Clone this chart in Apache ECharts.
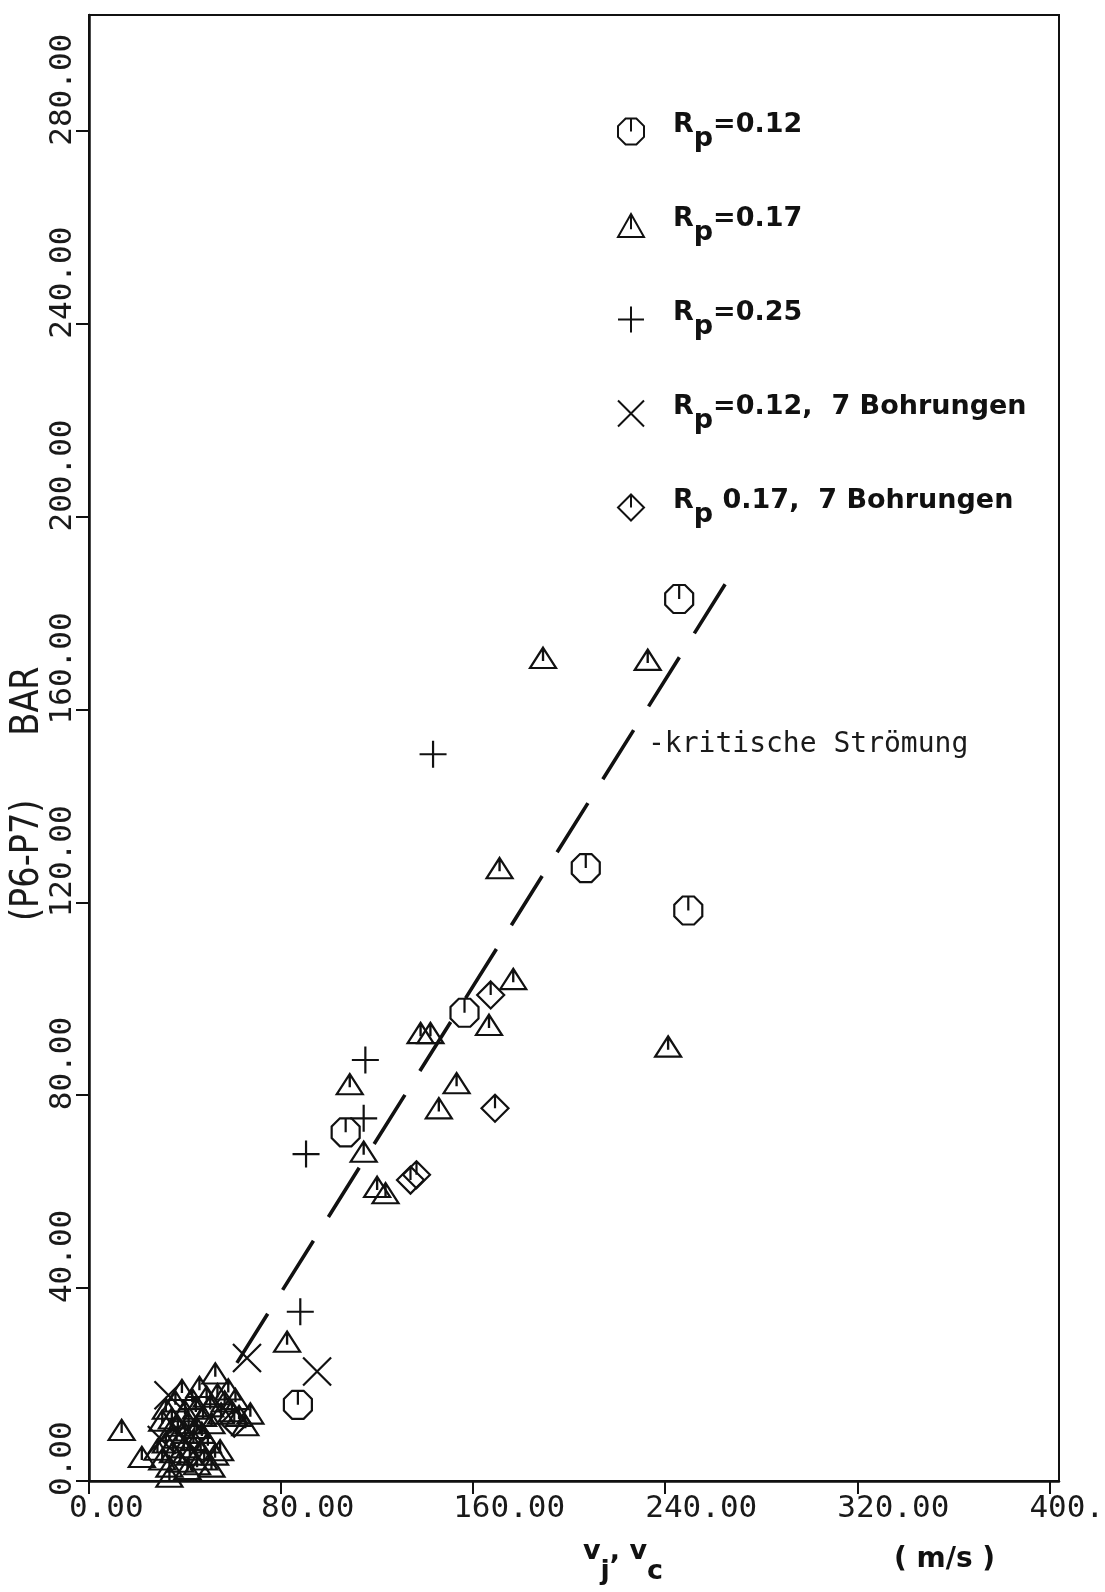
<!DOCTYPE html>
<html>
<head>
<meta charset="utf-8">
<script src="https://cdn.jsdelivr.net/npm/echarts@6/dist/echarts.min.js"></script>
<style>
  html, body { margin: 0; padding: 0; background: #fff; }
  #chart { width: 1105px; height: 1592px; }
</style>
</head>
<body>
<div id="chart"></div>
<script>
// Druckdifferenz P6-P7 (bar) über der Geschwindigkeit v_j, v_c (m/s)
const xTicks = [0, 80, 160, 240, 320, 400];
const yTicks = [0, 40, 80, 120, 160, 200, 240, 280];

// R_p = 0.12
const rp012 = [
  [245.8, 182.9], [206.9, 127.1], [249.6, 118.3], [156.4, 97.1],
  [106.9, 72.3], [87.0, 15.8]
];

// R_p = 0.17
const rp017 = [
  [189.1, 170.7], [232.7, 170.3], [171.0, 127.1], [176.7, 104.1],
  [241.2, 90.1], [138.1, 92.9], [142.2, 92.9], [166.6, 94.6],
  [153.1, 82.5], [145.7, 77.3], [108.6, 82.3], [114.4, 68.3],
  [120.0, 61.0], [123.5, 59.7], [82.5, 28.9],
  [13.6, 10.6], [22.0, 5.0], [33.5, 0.9],
  [52.6, 22.3], [38.7, 18.9], [67.2, 14.0], [65.1, 11.6], [54.6, 6.4],
  [30.5, 12.5], [32.0, 15.0], [34.5, 13.0], [36.0, 16.5], [40.0, 14.5],
  [41.5, 12.0], [43.0, 17.0], [44.5, 15.0], [46.0, 19.5], [47.5, 13.5],
  [49.0, 17.5], [50.5, 15.5], [53.5, 18.0], [55.0, 14.0], [56.5, 16.5],
  [58.0, 19.0], [59.5, 14.5], [61.0, 17.0], [62.5, 13.5], [45.0, 11.0],
  [51.0, 12.0], [37.0, 11.5],
  [28.5, 6.5], [30.5, 4.5], [32.0, 8.0], [33.5, 3.0], [35.0, 6.0],
  [36.5, 9.0], [38.0, 4.0], [39.5, 7.0], [41.0, 2.5], [42.0, 5.5],
  [43.5, 8.5], [45.0, 3.5], [46.5, 6.5], [48.0, 4.5], [49.5, 8.0],
  [51.0, 3.0], [52.5, 5.5], [40.0, 10.0], [34.0, 10.5], [47.0, 10.0]
];

// R_p = 0.25
const rp025 = [
  [143.3, 150.7], [115.1, 87.3], [114.4, 75.2], [90.4, 67.8], [88.0, 35.1]
];

// R_p = 0.12, 7 Bohrungen
const rp012b7 = [
  [65.8, 25.5], [95.0, 22.7], [33.1, 17.8], [30.3, 8.5]
];

// R_p 0.17, 7 Bohrungen
const rp017b7 = [
  [167.3, 100.8], [169.1, 77.3], [133.9, 62.4], [136.4, 63.5],
  [60.5, 12.0], [44.0, 9.5]
];

// kritische Strömung (Geradenstück, gestrichelt)
const kritisch = [[61.6, 24.5], [265.0, 186.0]];

const INK = '#111';

// Plotter symbols: outline with a short stroke from the top to the centre
const SYM_OCT = 'path://M-38,-92L38,-92L92,-38L92,38L38,92L-38,92L-92,38L-92,-38ZM0,-92L0,0';
const SYM_TRI = 'path://M0,0L50,88L-50,88ZM0,0L0,58';
const SYM_PLUS = 'path://M0,-50L0,50M-50,0L50,0';
const SYM_CROSS = 'path://M-50,-50L50,50M50,-50L-50,50';
const SYM_DIA = 'path://M0,-50L50,0L0,50L-50,0ZM0,-50L0,0';

const legendLabels = {
  'Rp=0.12': '{r|R}{p|p}{r|=0.12}',
  'Rp=0.17': '{r|R}{p|p}{r|=0.17}',
  'Rp=0.25': '{r|R}{p|p}{r|=0.25}',
  'Rp=0.12, 7 Bohrungen': '{r|R}{p|p}{r|=0.12,  7 Bohrungen}',
  'Rp 0.17, 7 Bohrungen': '{r|R}{p|p}{r| 0.17,  7 Bohrungen}'
};

function scatter(name, data, symbol, size) {
  return {
    name: name,
    type: 'scatter',
    data: data,
    symbol: symbol,
    symbolSize: size,
    symbolKeepAspect: true,
    itemStyle: { color: 'transparent', borderColor: INK, borderWidth: 2.2, opacity: 1 },
    emphasis: { disabled: true },
    z: 3
  };
}

const labelFont = {
  fontFamily: 'DejaVu Sans Mono',
  fontSize: 31,
  color: '#1a1a1a'
};

const chart = echarts.init(document.getElementById('chart'), null, { renderer: 'canvas' });

chart.setOption({
  animation: false,
  backgroundColor: '#fff',
  grid: {
    left: 89, right: 46, top: 15, bottom: 111,
    outerBoundsMode: 'none',
    containLabel: false,
    show: true, borderColor: INK, borderWidth: 2, backgroundColor: 'transparent'
  },
  xAxis: {
    type: 'value',
    min: 0, max: 404, interval: 80,
    axisLine: { show: true, onZero: false, lineStyle: { color: INK, width: 2.5 } },
    axisTick: { show: true, inside: false, length: 13, lineStyle: { color: INK, width: 2 }, customValues: xTicks },
    axisLabel: Object.assign({
      customValues: xTicks,
      align: 'left',
      padding: [0, 0, 0, -20],
      margin: 12,
      formatter: v => v.toFixed(2)
    }, labelFont),
    splitLine: { show: false }
  },
  yAxis: {
    type: 'value',
    min: 0, max: 304, interval: 40,
    axisLine: { show: true, onZero: false, lineStyle: { color: INK, width: 2.5 } },
    axisTick: { show: true, inside: false, length: 13, lineStyle: { color: INK, width: 2 }, customValues: yTicks },
    axisLabel: Object.assign({
      customValues: yTicks,
      rotate: 90,
      align: 'left',
      padding: [0, 0, 0, -15],
      margin: 11,
      formatter: v => v.toFixed(2)
    }, labelFont),
    splitLine: { show: false }
  },
  legend: {
    orient: 'vertical',
    left: 612,
    top: 106,
    itemWidth: 26,
    itemHeight: 26,
    itemGap: 53,
    selectedMode: false,
    formatter: name => legendLabels[name],
    textStyle: {
      color: INK,
      padding: [0, 0, 0, 24],
      rich: {
        r: { fontFamily: 'DejaVu Sans', fontWeight: 'bold', fontSize: 27, lineHeight: 32, color: INK, padding: [0, 0, 14, 0] },
        p: { fontFamily: 'DejaVu Sans', fontWeight: 'bold', fontSize: 27, lineHeight: 32, color: INK, padding: [14, 0, 0, 0] }
      }
    },
    data: ['Rp=0.12', 'Rp=0.17', 'Rp=0.25', 'Rp=0.12, 7 Bohrungen', 'Rp 0.17, 7 Bohrungen']
  },
  graphic: [
    {
      type: 'text',
      x: 28, y: 921,
      rotation: Math.PI / 2,
      scaleX: 0.86,
      style: {
        text: '(P6-P7)      BAR',
        font: '39px "DejaVu Sans"',
        fill: '#1a1a1a',
        align: 'left', textAlign: 'left',
        verticalAlign: 'middle', textVerticalAlign: 'middle'
      }
    },
    {
      type: 'text',
      x: 583, y: 1547,
      style: {
        text: '{b|v}{s|j}{b|, v}{s|c}',
        fill: INK,
        align: 'left', verticalAlign: 'top',
        rich: {
          b: { fontFamily: 'DejaVu Sans', fontWeight: 'bold', fontSize: 27, lineHeight: 30, fill: INK, padding: [0, 0, 20, 0] },
          s: { fontFamily: 'DejaVu Sans', fontWeight: 'bold', fontSize: 27, lineHeight: 30, fill: INK, padding: [20, 0, 0, 0] }
        }
      }
    },
    {
      type: 'text',
      x: 894, y: 1546,
      style: {
        text: '( m/s )',
        font: 'bold 28px "DejaVu Sans"',
        fill: INK,
        align: 'left', verticalAlign: 'top'
      }
    },
    {
      type: 'text',
      x: 648, y: 745,
      style: {
        text: '-kritische Strömung',
        font: '28px "DejaVu Sans Mono"',
        fill: '#1a1a1a',
        align: 'left', verticalAlign: 'middle'
      }
    }
  ],
  series: [
    scatter('Rp=0.12', rp012, SYM_OCT, 28),
    scatter('Rp=0.17', rp017, SYM_TRI, [26, 23]),
    scatter('Rp=0.25', rp025, SYM_PLUS, 27),
    scatter('Rp=0.12, 7 Bohrungen', rp012b7, SYM_CROSS, 28),
    scatter('Rp 0.17, 7 Bohrungen', rp017b7, SYM_DIA, 27),
    {
      name: 'kritische Strömung',
      type: 'line',
      data: kritisch,
      showSymbol: false,
      symbol: 'none',
      // 11 dashes with 10 gaps so the line starts and ends on a dash
      lineStyle: { color: INK, width: 3.6, type: [58, 28.1] },
      emphasis: { disabled: true },
      z: 2
    }
  ]
});
</script>
</body>
</html>
